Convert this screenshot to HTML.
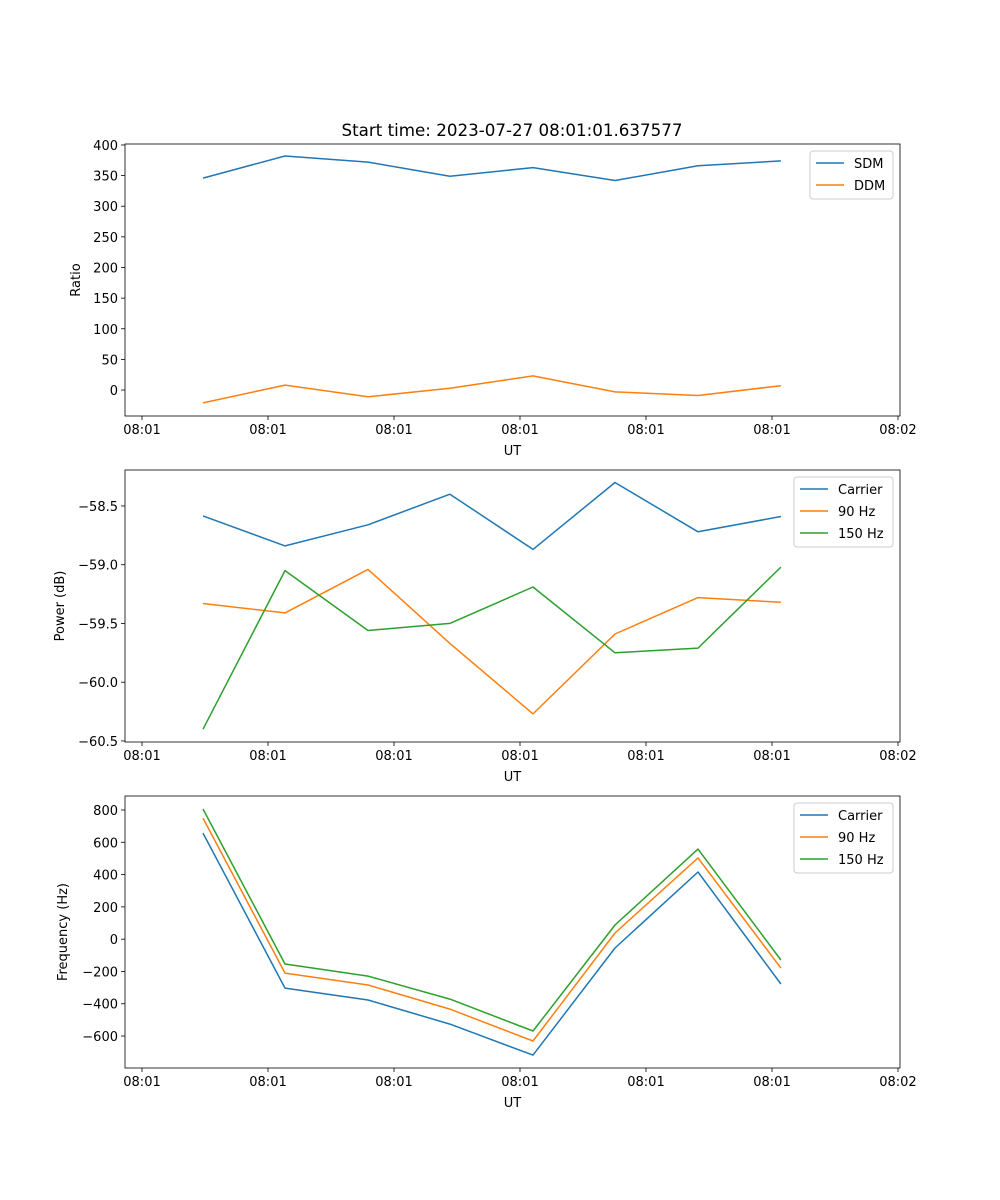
<!DOCTYPE html>
<html><head><meta charset="utf-8"><style>
html,body{margin:0;padding:0;background:#fff}
svg{display:block;font-family:"DejaVu Sans","Liberation Sans",sans-serif}
</style></head><body>
<svg id="fig" width="1000" height="1200" viewBox="0 0 1000 1200">
<text x="512" y="136" font-size="16.7" text-anchor="middle" fill="#000">Start time: 2023-07-27 08:01:01.637577</text>
</svg>
<script>
// shared x data (time, tick units)
const xTimes = [0.484, 1.135, 1.794, 2.444, 3.103, 3.754, 4.413, 5.071];
const xTickVals = [0, 1, 2, 3, 4, 5, 6];
const xTickLabels = ["08:01","08:01","08:01","08:01","08:01","08:01","08:02"];
// panel 1
const sdm = [346, 382, 372, 349, 363, 342, 366, 374];
const ddm = [-21, 8, -11, 3, 23, -3, -9, 7];
const ratioTicks = [0, 50, 100, 150, 200, 250, 300, 350, 400];
// panel 2
const powerCarrier = [-58.585, -58.84, -58.66, -58.40, -58.87, -58.30, -58.72, -58.59];
const power90 = [-59.33, -59.41, -59.04, -59.67, -60.27, -59.59, -59.28, -59.32];
const power150 = [-60.40, -59.05, -59.56, -59.50, -59.19, -59.75, -59.71, -59.02];
const powerTicks = [-60.5, -60.0, -59.5, -59.0, -58.5];
// panel 3
const freqCarrier = [657, -303, -377, -526, -718, -55, 416, -278];
const freq90 = [750, -210, -284, -433, -631, 38, 503, -179];
const freq150 = [806, -154, -229, -371, -569, 88, 558, -129];
const freqTicks = [-600, -400, -200, 0, 200, 400, 600, 800];

const C1="#1f77b4", C2="#ff7f0e", C3="#2ca02c";
const NS="http://www.w3.org/2000/svg";
const fig=document.getElementById('fig');
function mk(tag,attrs,parent){const e=document.createElementNS(NS,tag);for(const k in attrs)e.setAttribute(k,attrs[k]);(parent||fig).appendChild(e);return e;}

function panel(p){
  const L=125,R=900,T=p.top,B=p.top+272;
  const g=mk('g',{});
  
  
  const xs=v=>L+(v-(-0.135))/(6.016-(-0.135))*(R-L);
  const ys=v=>B-(v-p.ymin)/(p.ymax-p.ymin)*(B-T);
  xTickVals.forEach((v,i)=>{
    const x=xs(v);
    mk('line',{x1:x,x2:x,y1:B,y2:B+4,stroke:'#000','stroke-width':0.8},g);
    const t=mk('text',{x:x,y:B+18,'font-size':13,'text-anchor':'middle',fill:'#000'},g);
    t.textContent=xTickLabels[i];
    
    
  });
  p.yticks.forEach(v=>{
    const y=ys(v);
    mk('line',{x1:L-4,x2:L,y1:y,y2:y,stroke:'#000','stroke-width':0.8},g);
    const t=mk('text',{x:L-7,y:y+5,'font-size':13,'text-anchor':'end',fill:'#000'},g);
    t.textContent=p.fmt(v);
    
    
  });
  const xl=mk('text',{x:(L+R)/2,y:B+39,'font-size':13,'text-anchor':'middle',fill:'#000'},g);
  xl.textContent='UT';
  
  
  const yx=p.ylx, yy=(T+B)/2;
  const yl=mk('text',{x:yx,y:yy,'font-size':13,'text-anchor':'middle',fill:'#000',transform:`rotate(-90 ${yx} ${yy})`},g);
  yl.textContent=p.ylabel;
  
  
  p.series.forEach(s=>{
    const pts=s.data.map((v,i)=>xs(xTimes[i]).toFixed(1)+','+ys(v).toFixed(1)).join(' ');
    const pl=mk('polyline',{points:pts,fill:'none',stroke:s.color,'stroke-width':1.5,'stroke-linejoin':'round'},g);
    
    
  });
  mk('rect',{x:L,y:T,width:R-L,height:B-T,fill:'none',stroke:'#000','stroke-width':0.8},g);
  const n=p.series.length, lw=p.legW, lx=R-7-lw, ly=T+7, lh=8+n*22-4;
  const lg=mk('g',{},g);
  
  
  mk('rect',{x:lx,y:ly,width:lw,height:lh,rx:3,fill:'#fff','fill-opacity':0.8,stroke:'#ccc','stroke-width':1},lg);
  p.series.forEach((s,i)=>{
    const cy=ly+12+i*22;
    mk('line',{x1:lx+6,x2:lx+34,y1:cy,y2:cy,stroke:s.color,'stroke-width':1.5},lg);
    const t=mk('text',{x:lx+44,y:cy+5,'font-size':13,fill:'#000'},lg);
    t.textContent=s.label;
    
    
  });
}
panel({name:'ratio-panel',top:144,ymin:-42.4,ymax:401.6,yticks:ratioTicks,fmt:v=>String(v),ylabel:'Ratio',ylx:80,legW:83,
  series:[{data:sdm,color:C1,label:'SDM'},{data:ddm,color:C2,label:'DDM'}]});
panel({name:'power-panel',top:470,ymin:-60.509,ymax:-58.194,yticks:powerTicks,fmt:v=>v.toFixed(1).replace('-','\u2212'),ylabel:'Power (dB)',ylx:64,legW:99,
  series:[{data:powerCarrier,color:C1,label:'Carrier'},{data:power90,color:C2,label:'90 Hz'},{data:power150,color:C3,label:'150 Hz'}]});
panel({name:'frequency-panel',top:796,ymin:-798,ymax:886.7,yticks:freqTicks,fmt:v=>String(v).replace('-','\u2212'),ylabel:'Frequency (Hz)',ylx:67,legW:99,
  series:[{data:freqCarrier,color:C1,label:'Carrier'},{data:freq90,color:C2,label:'90 Hz'},{data:freq150,color:C3,label:'150 Hz'}]});
</script>
</body></html>
